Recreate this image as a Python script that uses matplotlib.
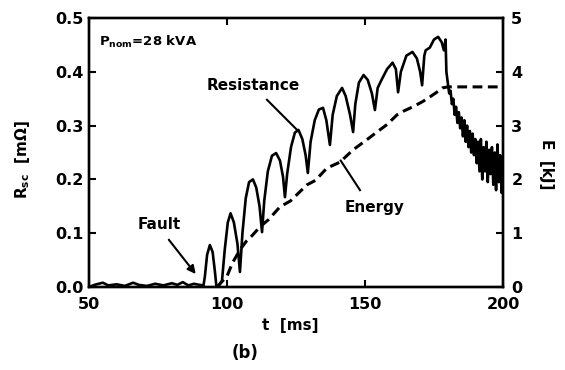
import numpy as np
import matplotlib
matplotlib.use('Agg')
import matplotlib.pyplot as plt

plt.rcParams['font.family'] = ['DejaVu Sans']
plt.rcParams['font.weight'] = 'bold'
plt.rcParams['mathtext.default'] = 'bf'

# Short-circuit resistance trace [ms, mOhm]
t_res = [50, 52, 55, 57, 60, 63, 66, 68, 71, 74, 77, 80, 82, 84, 86, 88, 90, 91.5,
         92, 92.8, 93.8, 94.8, 95.6, 96.2,
         97, 98.2, 99.2, 100.3, 101.3, 102.5, 103.8, 104.7,
         105.6, 106.8, 108, 109.4, 110.6, 111.8, 112.7,
         113.5, 114.8, 116.3, 117.8, 119.2, 120.3, 121,
         121.8, 123.2, 124.6, 125.9, 127.3, 128.5, 129.3,
         130.3, 131.8, 133.3, 134.8, 136, 137.3,
         138.3, 139.8, 141.7, 143, 144.6, 145.7,
         146.5, 147.8, 149.5, 151, 152.5, 153.6,
         154.6, 156, 158, 160, 161.2, 162,
         163, 165, 167.2, 168.8, 170, 170.7,
         171.5, 172, 173.5, 175, 176.5, 177.8, 178.6, 179.2, 179.5,
         180, 180.5, 181, 181.5, 182, 182.5, 183, 183.5, 184, 184.5, 185, 185.5,
         186, 186.5, 187, 187.5, 188, 188.5, 189, 189.5, 190, 190.5, 191, 191.5,
         192, 192.5, 193, 193.5, 194, 194.5, 195, 195.5, 196, 196.5, 197, 197.5,
         198, 198.5, 199, 199.5, 200]
r_res = [0.0, 0.004, 0.008, 0.003, 0.005, 0.002, 0.008, 0.004, 0.002, 0.006, 0.003, 0.007, 0.004, 0.009, 0.003, 0.006, 0.004, 0.003,
         0.02, 0.06, 0.078, 0.065, 0.03, 0.0,
         0.003, 0.012, 0.07, 0.12, 0.137, 0.12, 0.08, 0.028,
         0.1, 0.165, 0.195, 0.2, 0.185, 0.15, 0.102,
         0.16, 0.215, 0.244, 0.249, 0.235, 0.205, 0.167,
         0.21, 0.26, 0.287, 0.292, 0.275, 0.245, 0.212,
         0.27, 0.31, 0.33, 0.333, 0.31, 0.264,
         0.32, 0.355, 0.37, 0.355, 0.32, 0.288,
         0.34, 0.38, 0.394, 0.385, 0.36, 0.329,
         0.37, 0.385, 0.405, 0.417, 0.405, 0.362,
         0.4, 0.43, 0.437, 0.425, 0.4, 0.375,
         0.43, 0.44, 0.445, 0.46, 0.465, 0.455, 0.44, 0.46, 0.40,
         0.38, 0.36, 0.365, 0.34, 0.35, 0.32, 0.335, 0.305, 0.325, 0.295, 0.315, 0.28,
         0.31, 0.27, 0.30, 0.26, 0.29, 0.25, 0.285, 0.245, 0.275, 0.23, 0.27, 0.215,
         0.275, 0.2, 0.26, 0.215, 0.27, 0.195, 0.255, 0.21, 0.26, 0.19, 0.25, 0.18,
         0.265, 0.195, 0.245, 0.175, 0.23]

# Dissipated energy [ms, kJ]
t_en = [96.5, 98, 100, 102, 104.7, 107, 109, 112, 115, 119.2, 123, 126, 129, 132, 136.2,
        140.9, 145.7, 151, 154.3, 158, 161.6, 164, 167.4, 171, 174, 176, 178, 180, 200]
e_en = [0.0, 0.09, 0.2, 0.45, 0.69, 0.85, 0.95, 1.12, 1.25, 1.49, 1.6, 1.75, 1.9, 1.98, 2.21,
        2.32, 2.55, 2.75, 2.88, 3.02, 3.2, 3.27, 3.35, 3.45, 3.55, 3.62, 3.7, 3.72, 3.72]

fig = plt.figure(figsize=(5.65, 3.7), dpi=100)
ax = fig.add_axes([0.1575, 0.2243, 0.7327, 0.727])
ax2 = ax.twinx()

ax.plot(t_res, r_res, color='black', lw=1.9)
ax2.plot(t_en, e_en, color='black', lw=2.2, linestyle=(0, (3.2, 1.8)))

ax.set_xlim(50, 200)
ax.set_ylim(0, 0.5)
ax2.set_ylim(0, 5)

ax.set_xticks([50, 100, 150, 200])
ax.set_yticks([0.0, 0.1, 0.2, 0.3, 0.4, 0.5])
ax.set_yticklabels(['0.0', '0.1', '0.2', '0.3', '0.4', '0.5'])
ax2.set_yticks([0, 1, 2, 3, 4, 5])
ax.tick_params(direction='in', length=5, width=1.5, labelsize=11.5, top=True)
ax.tick_params(axis='x', pad=7)
ax.tick_params(axis='y', pad=4)
ax2.tick_params(direction='in', length=5, width=1.5, labelsize=11.5, pad=6)
for a in (ax, ax2):
    for s in a.spines.values():
        s.set_linewidth(1.7)
    for lbl in a.get_xticklabels() + a.get_yticklabels():
        lbl.set_fontweight('bold')

# Annotations
ax.text(53.5, 0.455, r'P$_{nom}$=28 kVA', fontsize=9.5, fontweight='bold', va='center')
ax.text(109.4, 0.375, 'Resistance', fontsize=11, fontweight='bold', ha='center', va='center')
ax.plot([114.5, 125.8], [0.348, 0.29], color='black', lw=1.5)
ax.text(153.6, 0.147, 'Energy', fontsize=11, fontweight='bold', ha='center', va='center')
ax.plot([148.2, 141.2], [0.18, 0.235], color='black', lw=1.5)
ax.text(75.4, 0.117, 'Fault', fontsize=11, fontweight='bold', ha='center', va='center')
ax.annotate('', xy=(89.3, 0.02), xytext=(78.3, 0.092),
            arrowprops=dict(arrowstyle='-|>', color='black', lw=1.5, mutation_scale=12))

fig.text(0.513, 0.12, 't  [ms]', fontsize=11, fontweight='bold', ha='center', va='center')
fig.text(0.434, 0.045, '(b)', fontsize=12, fontweight='bold', ha='center', va='center')
fig.text(0.04, 0.57, r'R$_{sc}$  [m$\Omega$]', fontsize=11, fontweight='bold',
         rotation=90, ha='center', va='center')
fig.text(0.968, 0.555, 'E  [kJ]', fontsize=11, fontweight='bold', rotation=270,
         ha='center', va='center')

fig.savefig('out.png', dpi=100)
